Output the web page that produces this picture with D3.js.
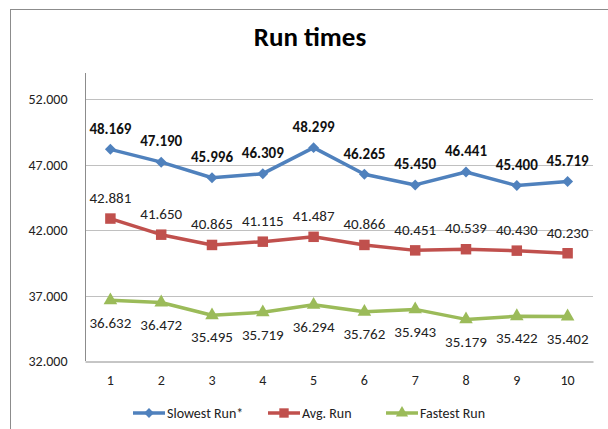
<!DOCTYPE html>
<html>
<head>
<meta charset="utf-8">
<script src="https://cdn.jsdelivr.net/npm/d3@7"></script>
<style>
  body { margin: 0; background: #fff; }
  svg { display: block; font-family: Carlito, Lato, "Open Sans", sans-serif; }
</style>
</head>
<body>
<div class="chart-container"></div>
<script>
var runs = [1, 2, 3, 4, 5, 6, 7, 8, 9, 10];
var slowest = [48.169, 47.190, 45.996, 46.309, 48.299, 46.265, 45.450, 46.441, 45.400, 45.719];
var average = [42.881, 41.650, 40.865, 41.115, 41.487, 40.866, 40.451, 40.539, 40.430, 40.230];
var fastest = [36.632, 36.472, 35.495, 35.719, 36.294, 35.762, 35.943, 35.179, 35.422, 35.402];
var yTicks = [32, 37, 42, 47, 52];
var seriesNames = ['Slowest Run*', 'Avg. Run', 'Fastest Run'];

(function() {
    'use strict';

    var width = 608, height = 429;

    // diamond as a square turned 45 degrees, like the office marker
    var diamond = {
        draw: function(context, size) {
            var r = Math.sqrt(size / 2);
            context.moveTo(0, -r);
            context.lineTo(r, 0);
            context.lineTo(0, r);
            context.lineTo(-r, 0);
            context.closePath();
        }
    };

    var series = [
        { name: seriesNames[0], values: slowest, color: '#4F81BD', marker: diamond, size: 60, bold: true, dy: -21 },
        { name: seriesNames[1], values: average, color: '#C0504D', marker: d3.symbolSquare, size: 110, bold: false, dy: -21 },
        { name: seriesNames[2], values: fastest, color: '#9BBB59', marker: d3.symbolTriangle, size: 80, bold: false, dy: 22 }
    ];

    var svg = d3.select('.chart-container')
        .append('svg')
        .attr('width', width)
        .attr('height', height);

    // outer chart frame (runs off the right / bottom of the picture)
    svg.append('rect')
        .attr('x', 10.5).attr('y', 9.5)
        .attr('width', 700).attr('height', 600)
        .attr('fill', 'none')
        .attr('stroke', '#8c8c8c')
        .attr('stroke-width', 1);

    svg.append('text')
        .attr('x', 310).attr('y', 46)
        .attr('text-anchor', 'middle')
        .attr('font-size', 27)
        .attr('font-weight', 'bold')
        .text('Run times');

    var x = d3.scaleBand().domain(runs).range([85, 593]);
    var y = d3.scaleLinear().domain([32, 54]).range([361, 73]);

    // gridlines
    svg.append('g')
        .selectAll('line')
        .data(yTicks.slice(1))
        .enter().append('line')
        .attr('x1', 85).attr('x2', 593)
        .attr('y1', function(d) { return Math.round(y(d)) + 0.5; })
        .attr('y2', function(d) { return Math.round(y(d)) + 0.5; })
        .attr('stroke', '#c0c0c0');

    var yAxis = svg.append('g')
        .attr('transform', 'translate(85.5,0)')
        .call(d3.axisLeft(y).tickValues(yTicks).tickSize(0).tickPadding(18)
            .tickFormat(function(d) { return d3.format('.3f')(d); }));
    yAxis.select('.domain').attr('stroke', '#8c8c8c').attr('d', 'M0,73V' + y(32));
    yAxis.selectAll('text').attr('font-size', 14).attr('fill', '#222')
        .attr('font-family', 'Carlito, Lato, "Open Sans", sans-serif');

    var xAxis = svg.append('g')
        .attr('transform', 'translate(0,' + (y(32) + 0.5) + ')')
        .call(d3.axisBottom(x).tickSize(0).tickPadding(14));
    xAxis.select('.domain').attr('stroke', '#8c8c8c');
    xAxis.selectAll('text').attr('font-size', 14).attr('fill', '#222')
        .attr('font-family', 'Carlito, Lato, "Open Sans", sans-serif');

    var cx = function(d, i) { return x(runs[i]) + x.bandwidth() / 2; };

    series.forEach(function(s) {
        var line = d3.line()
            .x(function(d, i) { return cx(d, i); })
            .y(function(d) { return y(d); });

        svg.append('path')
            .datum(s.values)
            .attr('d', line)
            .attr('fill', 'none')
            .attr('stroke', s.color)
            .attr('stroke-width', 3.5)
            .attr('stroke-linejoin', 'round');

        svg.append('g').selectAll('path')
            .data(s.values)
            .enter().append('path')
            .attr('d', d3.symbol().type(s.marker).size(s.size))
            .attr('transform', function(d, i) { return 'translate(' + cx(d, i) + ',' + y(d) + ')'; })
            .attr('fill', s.color);

        svg.append('g').selectAll('text')
            .data(s.values)
            .enter().append('text')
            .attr('x', function(d, i) { return cx(d, i); })
            .attr('y', function(d) { return y(d) + s.dy; })
            .attr('dy', '0.35em')
            .attr('text-anchor', 'middle')
            .attr('font-size', 15)
            .attr('font-weight', s.bold ? 'bold' : 'normal')
            .attr('fill', s.bold ? '#111' : '#222')
            .text(function(d) { return d3.format('.3f')(d); });
    });

    // legend
    var legendX = [133, 268, 386];
    var legend = svg.append('g').selectAll('g')
        .data(series)
        .enter().append('g')
        .attr('transform', function(d, i) { return 'translate(' + legendX[i] + ',413)'; });
    legend.append('line')
        .attr('x1', 0).attr('x2', 32)
        .attr('stroke', function(d) { return d.color; })
        .attr('stroke-width', 3.5);
    legend.append('path')
        .attr('d', function(d) { return d3.symbol().type(d.marker).size(d.size * 0.8)(); })
        .attr('transform', 'translate(16,0)')
        .attr('fill', function(d) { return d.color; });
    legend.append('text')
        .attr('x', 34).attr('dy', '0.35em')
        .attr('font-size', 14)
        .attr('fill', '#222')
        .text(function(d) { return d.name; });
})();
</script>
</body>
</html>
